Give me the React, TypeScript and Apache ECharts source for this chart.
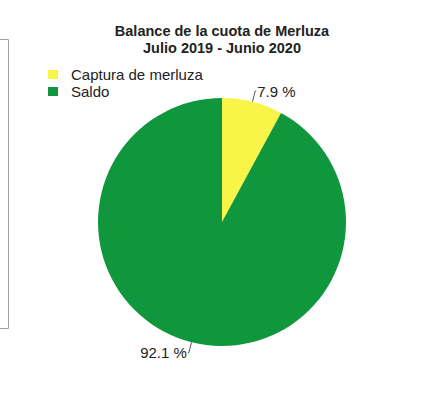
import React, { useEffect, useRef } from "react";
import * as echarts from "echarts";

const titleLines = ["Balance de la cuota de Merluza", "Julio 2019 - Junio 2020"];
const categories = ["Captura de merluza", "Saldo"];
const values = [7.9, 92.1];
const colors = ["#f8f548", "#10973d"];

export default function App() {
  const ref = useRef<HTMLDivElement>(null);
  useEffect(() => {
    if (!ref.current) return;
    const chart = echarts.init(ref.current, undefined, { renderer: "svg" });
    chart.setOption({
      animation: false,
      backgroundColor: "#ffffff",
      title: {
        text: titleLines.join("\n"),
        left: 222,
        top: 22,
        textAlign: "center",
        padding: 0,
        textStyle: {
          fontFamily: "Liberation Sans",
          fontSize: 14.5,
          fontWeight: "bold",
          color: "#222",
          lineHeight: 17,
        },
      },
      legend: {
        orient: "vertical",
        left: 48,
        top: 66,
        padding: 0,
        itemGap: 0,
        itemWidth: 10,
        itemHeight: 9,
        icon: "rect",
        data: categories,
        selectedMode: false,
        textStyle: {
          fontFamily: "Liberation Sans",
          fontSize: 15,
          color: "#222",
          lineHeight: 17,
          padding: [0, 0, 0, 8],
        },
      },
      graphic: [
        {
          type: "rect",
          shape: { x: -20, y: 39.5, width: 28.5, height: 289 },
          style: { fill: "none", stroke: "#a0a0a0", lineWidth: 1 },
        },
      ],
      series: [
        {
          type: "pie",
          center: [222, 222],
          radius: [0, 124],
          startAngle: 90,
          clockwise: true,
          data: categories.map((c, i) => ({
            name: c,
            value: values[i],
            itemStyle: { color: colors[i] },
          })),
          label: {
            show: true,
            formatter: (p: any) => p.value.toFixed(1) + " %",
            fontFamily: "Liberation Sans",
            fontSize: 15,
            color: "#222",
            distanceToLabelLine: 1,
          },
          labelLine: {
            show: true,
            length: 11,
            length2: 1,
            lineStyle: { color: "#555", width: 1 },
          },
          emphasis: { disabled: true },
        },
      ],
    });
    return () => chart.dispose();
  }, []);
  return (
    <div
      ref={ref}
      style={{ position: "fixed", left: 0, top: 0, width: 446, height: 406 }}
    />
  );
}
